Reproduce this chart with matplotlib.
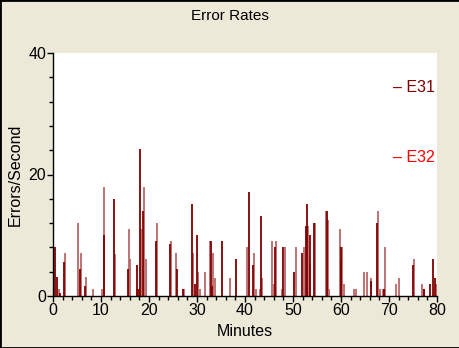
import matplotlib
matplotlib.use("Agg")
import matplotlib.pyplot as plt
from matplotlib.ticker import MultipleLocator
from matplotlib.patches import Rectangle

plt.rcParams['font.family'] = ['Liberation Sans', 'DejaVu Sans']

title = "Error Rates"
x_label = "Minutes"
y_label = "Errors/Second"
series_names = ["E31", "E32"]

e31_t = [0.4, 0.8, 1.5, 2.3, 5.6, 6.7, 10.7, 12.8, 15.6, 17.4, 17.9, 18.1, 18.7,
         21.4, 24.3, 25.9, 27.1, 28.9, 29.6, 29.9, 32.9, 33.2, 35.3, 38.2, 40.9,
         41.7, 43.4, 46.2, 48.0, 50.3, 51.9, 52.7, 53.0, 53.5, 54.3, 57.1, 59.9,
         60.1, 66.3, 67.5, 69.0, 75.0, 77.2, 78.6, 79.2, 79.5]
e31_v = [8.0, 3.2, 0.5, 5.6, 4.5, 1.6, 10.0, 16.0, 4.5, 5.1, 1.1, 24.2, 14.0,
         9.0, 8.5, 4.5, 1.1, 15.1, 2.0, 10.0, 9.0, 1.6, 9.0, 6.1, 17.1,
         5.1, 13.1, 8.0, 8.0, 4.0, 7.1, 11.6, 15.1, 10.0, 12.0, 14.0, 5.6,
         8.0, 2.5, 12.0, 1.1, 5.1, 1.1, 2.0, 6.1, 3.0]

e32_t = [1.2, 2.5, 5.3, 5.8, 6.9, 8.3, 10.3, 10.6, 13.0, 15.8, 16.1, 17.6, 18.4,
         18.9, 19.3, 21.6, 24.6, 25.7, 27.3, 29.1, 30.3, 30.7, 31.6, 32.8, 33.4,
         33.7, 36.8, 40.5, 41.9, 42.3, 43.2, 43.6, 45.7, 46.0, 46.5, 47.7, 48.3,
         50.6, 52.3, 53.2, 53.6, 54.5, 56.9, 57.3, 57.6, 59.7, 60.3, 60.6, 62.7,
         63.1, 64.8, 65.4, 66.2, 67.8, 68.2, 68.8, 69.2, 71.5, 72.1, 75.3, 76.9,
         77.3, 79.7, 79.9]
e32_v = [1.1, 7.1, 12.0, 7.1, 3.1, 1.1, 1.1, 18.0, 6.9, 11.1, 6.1, 1.1, 11.1,
         18.0, 6.1, 12.0, 9.0, 7.1, 1.1, 7.1, 4.0, 1.1, 4.0, 9.0, 7.1,
         3.0, 3.0, 8.0, 7.1, 1.1, 1.1, 3.0, 9.0, 2.0, 9.0, 1.1, 8.0,
         8.0, 8.0, 11.6, 5.4, 12.0, 14.0, 12.5, 1.1, 11.1, 8.0, 2.0, 1.1,
         1.1, 4.0, 4.0, 3.0, 14.0, 1.1, 1.1, 8.0, 2.0, 3.0, 6.1, 2.0,
         1.1, 2.0, 2.0]

bg = '#ECE9D8'
fig = plt.figure(figsize=(4.6, 3.48), dpi=100, facecolor=bg)
ax = fig.add_axes([53/460, 52/348, 384/460, 243/348])
ax.set_facecolor('white')

ax.vlines(e32_t, 0, e32_v, colors='#b86868', linewidth=1.3)
ax.vlines(e31_t, 0, e31_v, colors='#800000', linewidth=1.3)

ax.set_xlim(0, 80)
ax.set_ylim(0, 40)
ax.xaxis.set_major_locator(MultipleLocator(10))
ax.xaxis.set_minor_locator(MultipleLocator(2))
ax.yaxis.set_major_locator(MultipleLocator(20))
ax.yaxis.set_minor_locator(MultipleLocator(4))
for s in ['top', 'right']:
    ax.spines[s].set_visible(False)
for s in ['left', 'bottom']:
    ax.spines[s].set_color('black')
    ax.spines[s].set_linewidth(1.0)
ax.tick_params(which='major', length=4, width=1, labelsize=11.5, pad=1)
ax.tick_params(which='minor', length=3, width=1)

ax.set_xlabel(x_label, fontsize=11.5, labelpad=4)
ax.set_ylabel(y_label, fontsize=11.5, labelpad=4)
fig.text(0.5, 0.955, title, ha='center', va='center', fontsize=11)

ax.text(0.885, 0.856, "\u2013 " + series_names[0], transform=ax.transAxes,
        color='#800000', fontsize=11.5, va='center', ha='left')
ax.text(0.885, 0.572, "\u2013 " + series_names[1], transform=ax.transAxes,
        color='#ff0000', fontsize=11.5, va='center', ha='left')

fig.patches.append(Rectangle((0, 0), 1, 1, transform=fig.transFigure,
                             fill=False, edgecolor='black', linewidth=2))

fig.savefig('out.png', dpi=100, facecolor=bg)
